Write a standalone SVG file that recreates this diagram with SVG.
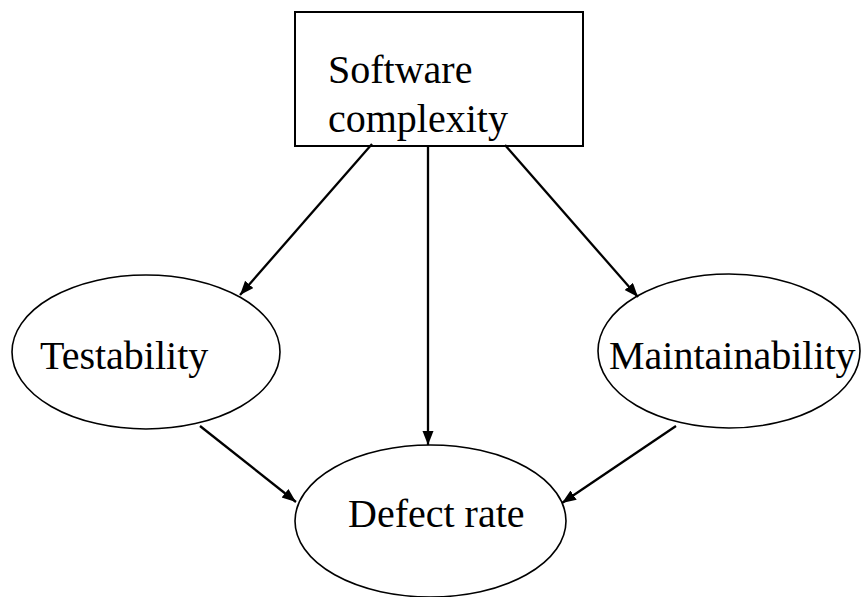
<svg xmlns="http://www.w3.org/2000/svg" width="862" height="597" viewBox="0 0 862 597">
  <style>
    .shape { fill: #ffffff; stroke: #000000; stroke-width: 1.6; }
    .label { font-family: "Liberation Serif", "Times New Roman", serif; font-size: 40px; fill: #000000; }
    .conn { stroke: #000000; stroke-width: 2.3; fill: none; marker-end: url(#arrow); }
  </style>
  <defs>
    <marker id="arrow" markerUnits="userSpaceOnUse" markerWidth="15" markerHeight="12" refX="14" refY="5.5" orient="auto">
      <path d="M0,0 L14,5.5 L0,11 z" fill="#000000"/>
    </marker>
  </defs>
  <rect width="862" height="597" fill="#ffffff"/>
  <g id="software-complexity">
    <rect class="shape" x="295" y="12" width="288" height="134" style="stroke-width:2"/>
    <text class="label" x="328" y="83">Software</text>
    <text class="label" x="328" y="132">complexity</text>
  </g>
  <g id="testability">
    <ellipse class="shape" cx="146" cy="352" rx="134" ry="77"/>
    <text class="label" x="40" y="369">Testability</text>
  </g>
  <g id="maintainability">
    <ellipse class="shape" cx="729" cy="351" rx="131" ry="77"/>
    <text class="label" x="609" y="369">Maintainability</text>
  </g>
  <g id="defect-rate">
    <ellipse class="shape" cx="430.5" cy="521" rx="135.5" ry="76"/>
    <text class="label" x="348" y="527">Defect rate</text>
  </g>
  <g id="connectors">
    <line class="conn" x1="372" y1="144" x2="240" y2="295"/>
    <line class="conn" x1="428" y1="146" x2="428" y2="445"/>
    <line class="conn" x1="505" y1="145" x2="638" y2="297"/>
    <line class="conn" x1="200" y1="426" x2="296" y2="502"/>
    <line class="conn" x1="676" y1="426" x2="562" y2="503"/>
  </g>
</svg>
